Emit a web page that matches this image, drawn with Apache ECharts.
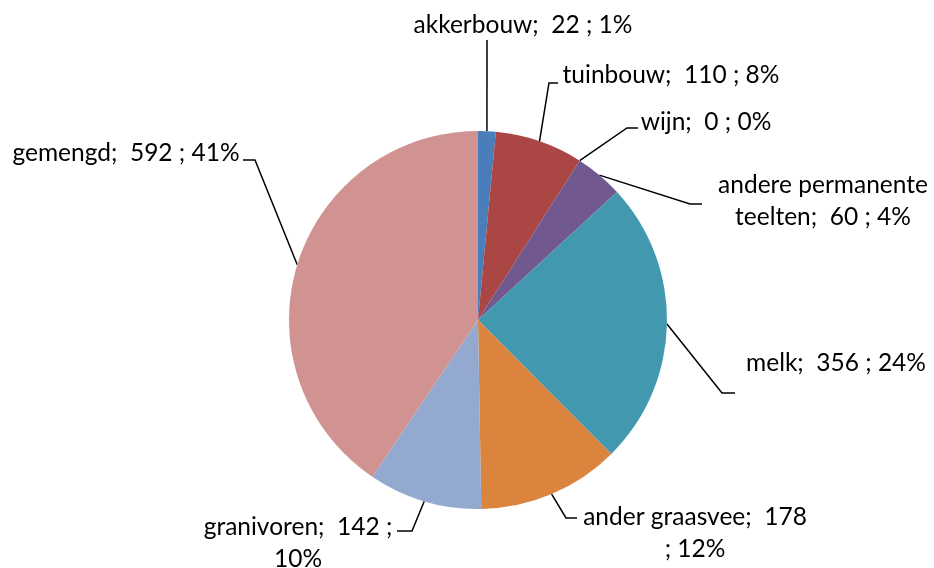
<!DOCTYPE html>
<html>
<head>
<meta charset="utf-8">
<script src="https://cdn.jsdelivr.net/npm/echarts@6/dist/echarts.min.js"></script>
<style>
  html, body { margin: 0; padding: 0; background: #fff; }
  #chart { width: 934px; height: 568px; }
</style>
</head>
<body>
<div id="chart"></div>
<script>
// data
const categories = ["akkerbouw", "tuinbouw", "wijn", "andere permanente teelten", "melk", "ander graasvee", "granivoren", "gemengd"];
const values = [22, 110, 0, 60, 356, 178, 142, 592];
const percentLabels = ["1%", "8%", "0%", "4%", "24%", "12%", "10%", "41%"];
const colors = ["#4A7EBB", "#AA4643", "#89A54E", "#71588F", "#4198AF", "#DB843D", "#93A9CF", "#D19392"];

// label text as wrapped in the picture
const labelTexts = [
  "akkerbouw;  22 ; 1%",
  "tuinbouw;  110 ; 8%",
  "wijn;  0 ; 0%",
  "andere permanente\nteelten;  60 ; 4%",
  "melk;  356 ; 24%",
  "ander graasvee;  178\n; 12%",
  "granivoren;  142 ;\n10%",
  "gemengd;  592 ; 41%"
];

// label placement: text centre, leader line bend and end
const labelPlace = [
  { x: 523, y: 25, bend: [487, 40], end: [487, 40] },
  { x: 671, y: 75, bend: [549, 83], end: [558, 83] },
  { x: 706, y: 122, bend: [627, 128], end: [638, 128] },
  { x: 823, y: 201, bend: [690, 204], end: [702, 204] },
  { x: 836, y: 363, bend: [722, 393], end: [735, 393] },
  { x: 695, y: 533, bend: [566, 518], end: [577, 518] },
  { x: 298, y: 543, bend: [412, 531], end: [397, 531] },
  { x: 126, y: 153, bend: [255, 160], end: [243, 160] }
];

const center = [478, 320];
const radius = 189;
const total = values.reduce((a, b) => a + b, 0);

function edgePoint(i) {
  let before = 0;
  for (let k = 0; k < i; k++) before += values[k];
  const mid = (before + values[i] / 2) / total * Math.PI * 2;
  return [center[0] + radius * Math.sin(mid), center[1] - radius * Math.cos(mid)];
}

let myChart = echarts.init(document.getElementById("chart"));

let option = {
  animation: false,
  color: colors,
  series: [
    {
      type: "pie",
      center: center,
      radius: radius,
      startAngle: 90,
      clockwise: true,
      minShowLabelAngle: 0,
      avoidLabelOverlap: false,
      itemStyle: { borderWidth: 0 },
      label: {
        show: true,
        position: "outside",
        color: "#000",
        fontFamily: "Lato, sans-serif",
        fontSize: 24.5,
        lineHeight: 32,
        formatter: function (p) {
          return labelTexts[p.dataIndex];
        }
      },
      labelLine: {
        show: true,
        lineStyle: { color: "#000", width: 1.5 }
      },
      labelLayout: function (params) {
        const i = params.dataIndex;
        const pl = labelPlace[i];
        const start = edgePoint(i);
        return {
          x: pl.x,
          y: pl.y,
          align: "center",
          verticalAlign: "middle",
          labelLinePoints: [start, pl.bend, pl.end]
        };
      },
      data: categories.map((name, i) => ({
        name: name,
        value: values[i],
        pct: percentLabels[i]
      }))
    }
  ]
};

myChart.setOption(option);
</script>
</body>
</html>
